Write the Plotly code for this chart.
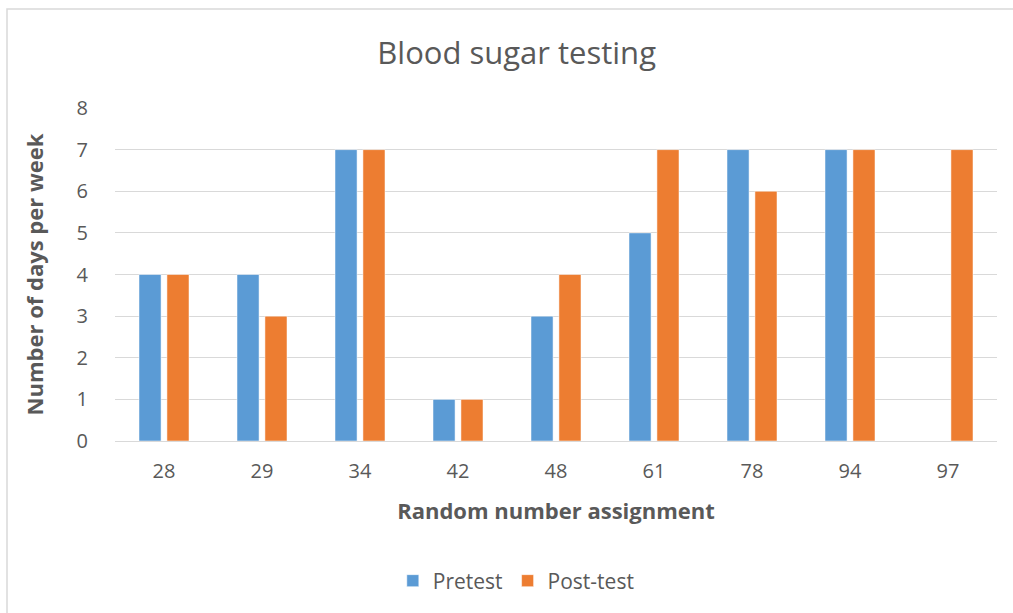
import plotly.graph_objects as go

# Données
categories = ["28", "29", "34", "42", "48", "61", "78", "94", "97"]
pretest = [4, 4, 7, 1, 3, 5, 7, 7, None]
posttest = [4, 3, 7, 1, 4, 7, 6, 7, 7]

FONT = "Open Sans"
GREY = "#595959"

fig = go.Figure()
fig.add_trace(go.Bar(
    x=categories, y=pretest, name="Pretest",
    marker=dict(color="#5B9BD5", line=dict(color="white", width=0.5)),
))
fig.add_trace(go.Bar(
    x=categories, y=posttest, name="Post-test",
    marker=dict(color="#ED7D31", line=dict(color="white", width=0.5)),
))

# cadre gris du graphique (déborde à droite et en bas comme dans l'original)
pl, pr, pt, pb = 115, 997, 108, 441
w, h = pr - pl, pb - pt
fig.add_shape(
    type="rect", xref="paper", yref="paper", layer="below",
    x0=(7 - pl) / w, x1=(1030 - pl) / w,
    y0=(pb - 640) / h, y1=(pb - 9) / h,
    line=dict(color="#d9d9d9", width=1.5), fillcolor="rgba(0,0,0,0)",
)

fig.update_layout(
    width=1013, height=613,
    barmode="group", bargap=0.43, bargroupgap=0.21,
    margin=dict(l=pl, r=1013 - pr, t=pt, b=613 - pb),
    paper_bgcolor="white", plot_bgcolor="white",
    font=dict(family=FONT, color=GREY),
    title=dict(text="Blood sugar testing", x=0.51, xanchor="center",
               y=1 - 53 / 613, yanchor="middle",
               font=dict(family=FONT, size=31, color=GREY)),
    xaxis=dict(
        tickfont=dict(size=20, color=GREY), showgrid=False,
        ticks="outside", ticklen=12, tickcolor="rgba(0,0,0,0)",
        showline=True, linecolor="#d9d9d9", linewidth=1,
        title=dict(text="<b>Random number assignment</b>", standoff=20,
                   font=dict(size=22, color=GREY)),
    ),
    yaxis=dict(
        range=[0, 8], dtick=1,
        tickfont=dict(size=20, color=GREY),
        showgrid=True, gridcolor="#d9d9d9", gridwidth=1,
        zeroline=False,
        ticks="outside", ticklen=22, tickcolor="rgba(0,0,0,0)",
        title=dict(text="<b>Number of days per week</b>", standoff=26,
                   font=dict(size=22, color=GREY)),
    ),
    legend=dict(orientation="h", x=0.455, xanchor="center",
                y=(pb - 581) / h, yanchor="middle",
                font=dict(size=21, color=GREY), itemwidth=30),
)

fig.write_html("out.html", config={"displayModeBar": False},
               post_script="document.body.style.margin='0';")
